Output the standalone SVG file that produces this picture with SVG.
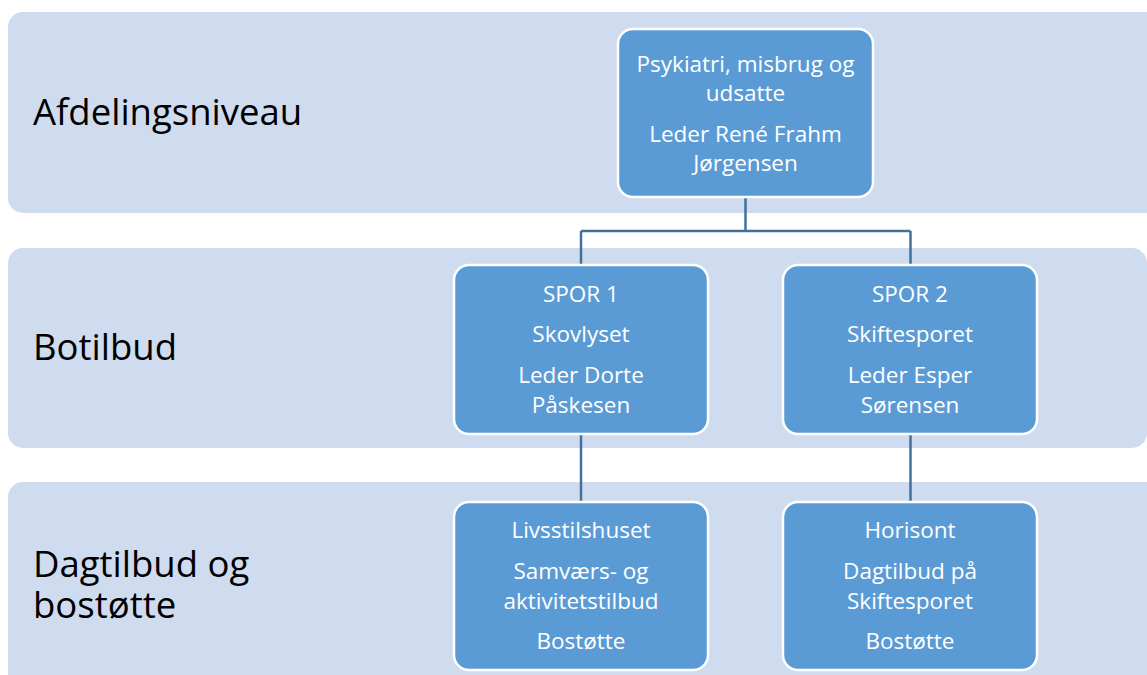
<svg xmlns="http://www.w3.org/2000/svg" width="1147" height="675" viewBox="0 0 1147 675">
<style>
.band{fill:#CFDBEE;}
.node{fill:#5B9BD5;stroke:#FFFFFF;stroke-width:2.5;}
.conn{stroke:#41719C;stroke-width:2.5;fill:none;}
.lbl{font-family:"Open Sans","Liberation Sans",sans-serif;font-size:36.5px;fill:#000000;font-variant-ligatures:none;}
.nt{font-family:"Open Sans","Liberation Sans",sans-serif;font-size:22.5px;fill:#FFFFFF;text-anchor:middle;font-variant-ligatures:none;}
</style>
<rect width="1147" height="675" fill="#FFFFFF"/>
<g id="band-afdelingsniveau">
<rect class="band" x="8" y="12" width="1155" height="201" rx="15"/>
<text class="lbl" x="33" y="125">Afdelingsniveau</text>
</g>
<g id="band-botilbud">
<rect class="band" x="8" y="248" width="1139" height="200" rx="15"/>
<text class="lbl" x="33" y="360">Botilbud</text>
</g>
<g id="band-dagtilbud">
<rect class="band" x="8" y="482" width="1155" height="220" rx="15"/>
<text class="lbl" x="33" y="577">Dagtilbud og<tspan x="33" y="618">bostøtte</tspan></text>
</g>
<g id="connectors">
<path class="conn" d="M745.5 197 V231 M581 231 H910.5 M581 231 V265 M910.5 231 V265"/>
<path class="conn" d="M581 434 V502"/>
<path class="conn" d="M910.5 434 V502"/>
</g>
<g id="node-afdeling">
<rect class="node" x="618" y="29" width="255" height="168" rx="15"/>
<text class="nt" x="745.5" y="72">Psykiatri, misbrug og</text>
<text class="nt" x="745.5" y="101">udsatte</text>
<text class="nt" x="745.5" y="142">Leder René Frahm</text>
<text class="nt" x="745.5" y="171">Jørgensen</text>
</g>
<g id="node-spor1">
<rect class="node" x="454" y="265" width="254" height="169" rx="15"/>
<text class="nt" x="581" y="302">SPOR 1</text>
<text class="nt" x="581" y="342">Skovlyset</text>
<text class="nt" x="581" y="383">Leder Dorte</text>
<text class="nt" x="581" y="413">Påskesen</text>
</g>
<g id="node-spor2">
<rect class="node" x="783" y="265" width="254" height="169" rx="15"/>
<text class="nt" x="910" y="302">SPOR 2</text>
<text class="nt" x="910" y="342">Skiftesporet</text>
<text class="nt" x="910" y="383">Leder Esper</text>
<text class="nt" x="910" y="413">Sørensen</text>
</g>
<g id="node-livsstilshuset">
<rect class="node" x="454" y="502" width="254" height="168" rx="15"/>
<text class="nt" x="581" y="538">Livsstilshuset</text>
<text class="nt" x="581" y="579">Samværs- og</text>
<text class="nt" x="581" y="609">aktivitetstilbud</text>
<text class="nt" x="581" y="649">Bostøtte</text>
</g>
<g id="node-horisont">
<rect class="node" x="783" y="502" width="254" height="168" rx="15"/>
<text class="nt" x="910" y="538">Horisont</text>
<text class="nt" x="910" y="579">Dagtilbud på</text>
<text class="nt" x="910" y="609">Skiftesporet</text>
<text class="nt" x="910" y="649">Bostøtte</text>
</g>
</svg>
